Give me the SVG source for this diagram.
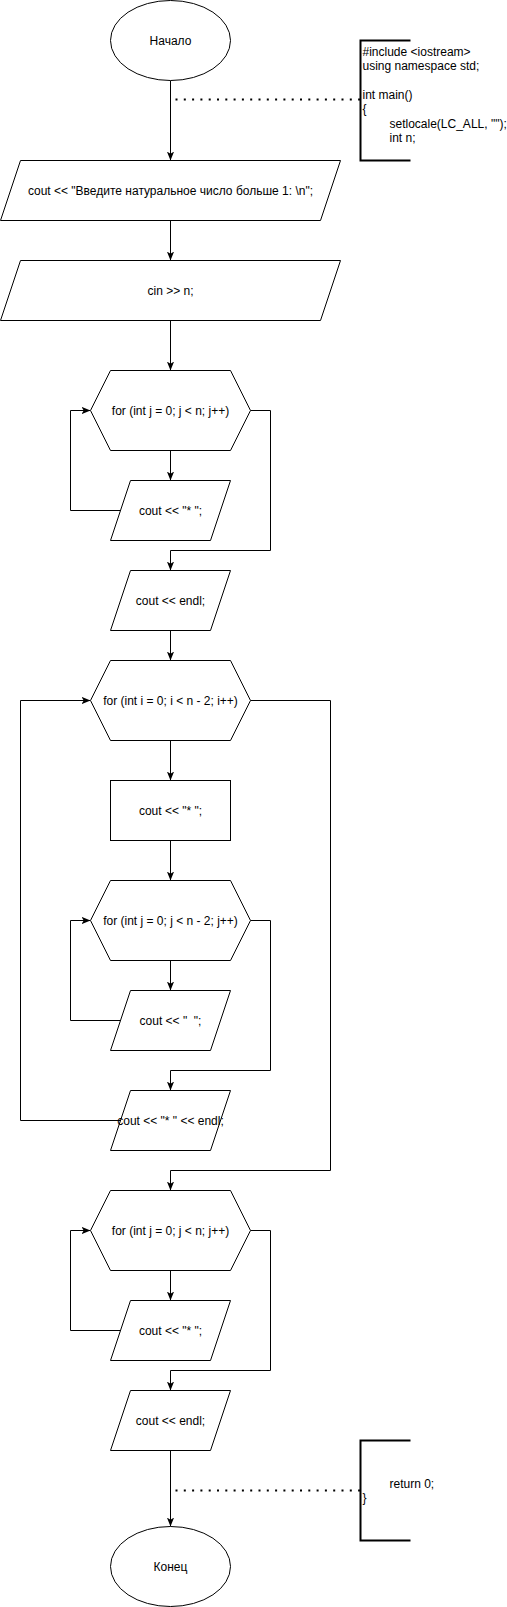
<svg xmlns="http://www.w3.org/2000/svg" width="507" height="1607" viewBox="0 0 507 1607">
<style>
.s{fill:#fff;stroke:#000;stroke-width:1}
.t{font-family:"Liberation Sans",Arial,sans-serif;font-size:12px;fill:#000;text-anchor:middle}
.c{font-family:"Liberation Sans",Arial,sans-serif;font-size:12px;fill:#000;text-anchor:start}
.e{fill:none;stroke:#000;stroke-width:1}
.d{fill:none;stroke:#000;stroke-width:2;stroke-dasharray:2 6.3}
.b{fill:none;stroke:#000;stroke-width:2}
</style>
<defs>
<marker id="arr" viewBox="0 0 10 10" refX="10" refY="5" markerWidth="9" markerHeight="9" orient="auto" markerUnits="userSpaceOnUse">
<path d="M0,1 L10,5 L0,9 L2.5,5 z" fill="#000"/>
</marker>
</defs>
<rect width="507" height="1607" fill="#fff"/>
<g transform="translate(0.5,0.5)">
<g id="connectors">
<path class="e" d="M170,80 V160" marker-end="url(#arr)"/>
<path class="e" d="M170,220 V260" marker-end="url(#arr)"/>
<path class="e" d="M170,320 V370" marker-end="url(#arr)"/>
<path class="e" d="M170,450 V480" marker-end="url(#arr)"/>
<path class="e" d="M120,510 H70 V410 H90" marker-end="url(#arr)"/>
<path class="e" d="M250,410 H270 V550 H170 V570" marker-end="url(#arr)"/>
<path class="e" d="M170,630 V660" marker-end="url(#arr)"/>
<path class="e" d="M170,740 V780" marker-end="url(#arr)"/>
<path class="e" d="M170,840 V880" marker-end="url(#arr)"/>
<path class="e" d="M170,960 V990" marker-end="url(#arr)"/>
<path class="e" d="M120,1020 H70 V920 H90" marker-end="url(#arr)"/>
<path class="e" d="M250,920 H270 V1070 H170 V1090" marker-end="url(#arr)"/>
<path class="e" d="M120,1120 H20 V700 H90" marker-end="url(#arr)"/>
<path class="e" d="M250,700 H330 V1170 H170 V1190" marker-end="url(#arr)"/>
<path class="e" d="M170,1270 V1300" marker-end="url(#arr)"/>
<path class="e" d="M120,1330 H70 V1230 H90" marker-end="url(#arr)"/>
<path class="e" d="M250,1230 H270 V1370 H170 V1390" marker-end="url(#arr)"/>
<path class="e" d="M170,1450 V1526" marker-end="url(#arr)"/>
<path class="d" d="M175,99 H360"/>
<path class="d" d="M175,1490 H360"/>
</g>
<g id="start">
<ellipse class="s" cx="170" cy="40" rx="60" ry="40"/>
<text class="t" x="170" y="44">Начало</text>
</g>
<g id="code1">
<path class="b" d="M410,40 H360 V160 H410"/>
<text class="c" xml:space="preserve"><tspan x="362" y="55">#include &lt;iostream&gt;</tspan><tspan x="362" y="69.4">using namespace std;</tspan><tspan x="362" y="98.2">int main()</tspan><tspan x="362" y="112.6">{</tspan><tspan x="389" y="127">setlocale(LC_ALL, "");</tspan><tspan x="389" y="141.4">int n;</tspan></text>
</g>
<g id="out1">
<path class="s" d="M20,160 H340 L320,220 H0 Z"/>
<text class="t" x="170" y="194">cout &lt;&lt; "Введите натуральное число больше 1: \n";</text>
</g>
<g id="in1">
<path class="s" d="M20,260 H340 L320,320 H0 Z"/>
<text class="t" x="170" y="294">cin &gt;&gt; n;</text>
</g>
<g id="loop1">
<path class="s" d="M110,370 H230 L250,410 L230,450 H110 L90,410 Z"/>
<text class="t" x="170" y="414">for (int j = 0; j &lt; n; j++)</text>
</g>
<g id="out2">
<path class="s" d="M130,480 H230 L210,540 H110 Z"/>
<text class="t" x="170" y="514">cout &lt;&lt; "* ";</text>
</g>
<g id="out3">
<path class="s" d="M130,570 H230 L210,630 H110 Z"/>
<text class="t" x="170" y="604">cout &lt;&lt; endl;</text>
</g>
<g id="loop2">
<path class="s" d="M110,660 H230 L250,700 L230,740 H110 L90,700 Z"/>
<text class="t" x="170" y="704">for (int i = 0; i &lt; n - 2; i++)</text>
</g>
<g id="proc1">
<rect class="s" x="110" y="780" width="120" height="60"/>
<text class="t" x="170" y="814">cout &lt;&lt; "* ";</text>
</g>
<g id="loop3">
<path class="s" d="M110,880 H230 L250,920 L230,960 H110 L90,920 Z"/>
<text class="t" x="170" y="924">for (int j = 0; j &lt; n - 2; j++)</text>
</g>
<g id="out4">
<path class="s" d="M130,990 H230 L210,1050 H110 Z"/>
<text class="t" x="170" y="1024" xml:space="preserve">cout &lt;&lt; "  ";</text>
</g>
<g id="out5">
<path class="s" d="M130,1090 H230 L210,1150 H110 Z"/>
<text class="t" x="170" y="1124">cout &lt;&lt; "* " &lt;&lt; endl;</text>
</g>
<g id="loop4">
<path class="s" d="M110,1190 H230 L250,1230 L230,1270 H110 L90,1230 Z"/>
<text class="t" x="170" y="1234">for (int j = 0; j &lt; n; j++)</text>
</g>
<g id="out6">
<path class="s" d="M130,1300 H230 L210,1360 H110 Z"/>
<text class="t" x="170" y="1334">cout &lt;&lt; "* ";</text>
</g>
<g id="out7">
<path class="s" d="M130,1390 H230 L210,1450 H110 Z"/>
<text class="t" x="170" y="1424">cout &lt;&lt; endl;</text>
</g>
<g id="code2">
<path class="b" d="M410,1440 H360 V1540 H410"/>
<text class="c"><tspan x="389" y="1487">return 0;</tspan><tspan x="362" y="1501.4">}</tspan></text>
</g>
<g id="end">
<ellipse class="s" cx="170" cy="1566" rx="60" ry="40"/>
<text class="t" x="170" y="1570">Конец</text>
</g>
</g>
</svg>
